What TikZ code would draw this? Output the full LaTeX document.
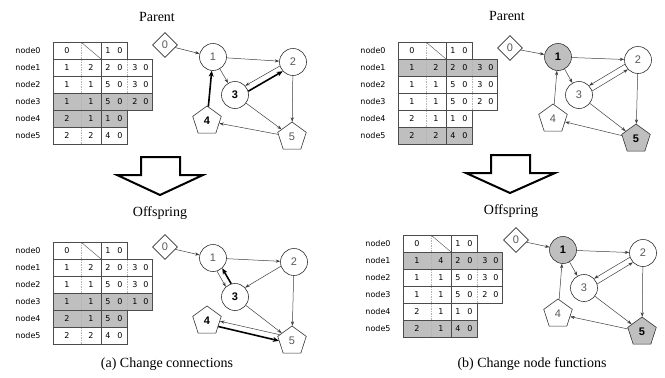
\documentclass[tikz,border=0pt]{standalone}
\usepackage{fontspec}
\setmainfont{Liberation Serif}
\newfontfamily\tabfont{DejaVu Sans}
\newfontfamily\gfont{Liberation Sans}
\usetikzlibrary{shapes.geometric,arrows.meta,calc}

\tikzset{
  cell/.style={font=\tabfont\fontsize{8}{9}\selectfont, inner sep=0pt},
  rowlab/.style={font=\tabfont\fontsize{8}{9}\selectfont, inner sep=0pt},
  gline/.style={draw=black!70, line width=0.6pt},
  dline/.style={draw=black!30, dash pattern=on 1.5pt off 1pt, line width=0.5pt},
  shaded/.style={fill=black!25},
  plain/.style={fill=white},
  gnode/.style={draw=black!80, line width=0.6pt, fill=white, inner sep=0pt,
    font=\gfont\fontsize{11}{12}\selectfont, text=black!65},
  circ/.style={gnode, circle, minimum size=27pt},
  pent/.style={gnode, regular polygon, regular polygon sides=5, minimum size=30pt},
  diam/.style={gnode, diamond, aspect=1, minimum size=25pt},
  hl/.style={font=\gfont\bfseries\fontsize{11}{12}\selectfont, text=black},
  gfill/.style={fill=black!25},
  e/.style={draw=black!75, line width=0.5pt, -{Stealth[length=4.5pt,width=3.2pt]}},
  te/.style={draw=black, line width=1.6pt, -{Stealth[length=6pt,width=5pt]}},
  bigarrow/.style={draw=black, line width=2pt, fill=white, line join=miter},
  title/.style={font=\fontsize{14}{16}\selectfont, inner sep=0pt},
}

% row 0 : function, slash, one connection
\newcommand\rowZ[4]{%
  \node[cell] (#1r0a) at (14,8.5) {#2};
  \node[cell] (#1r0c) at (55,8.5) {#3};
  \node[cell] (#1r0d) at (67,8.5) {#4};
  \draw[gline, line width=0.4pt] (28,0) -- (48,17);
  \draw[dline] (28,0) -- (28,17);
  \draw[gline] (48,0) -- (48,17);
  \draw[gline] (0,0) rectangle (74,17);
}
% three-column row: #1 prefix #2 row #3 fill #4 a #5 b #6 c1 #7 c2
\newcommand\rowC[7]{%
  \fill[#3] (0,#2*17) rectangle (74,#2*17+17);
  \node[cell] (#1r#2a) at (14,#2*17+8.5) {#4};
  \node[cell] (#1r#2b) at (38,#2*17+8.5) {#5};
  \node[cell] (#1r#2c) at (55,#2*17+8.5) {#6};
  \node[cell] (#1r#2d) at (67,#2*17+8.5) {#7};
  \draw[dline] (28,#2*17) -- (28,#2*17+17);
  \draw[gline] (48,#2*17) -- (48,#2*17+17);
  \draw[gline] (0,#2*17) rectangle (74,#2*17+17);
}
% four-column row: adds #8 d1 #9 d2
\newcommand\rowD[9]{%
  \fill[#3] (0,#2*17) rectangle (99,#2*17+17);
  \node[cell] (#1r#2a) at (14,#2*17+8.5) {#4};
  \node[cell] (#1r#2b) at (38,#2*17+8.5) {#5};
  \node[cell] (#1r#2c) at (55,#2*17+8.5) {#6};
  \node[cell] (#1r#2d) at (67,#2*17+8.5) {#7};
  \node[cell] (#1r#2e) at (82,#2*17+8.5) {#8};
  \node[cell] (#1r#2f) at (93,#2*17+8.5) {#9};
  \draw[dline] (28,#2*17) -- (28,#2*17+17);
  \draw[gline] (48,#2*17) -- (48,#2*17+17);
  \draw[dline] (74,#2*17) -- (74,#2*17+17);
  \draw[gline] (0,#2*17) rectangle (99,#2*17+17);
}
\newcommand\rlabs[1]{%
  \foreach \i in {0,...,5}{\node[rowlab] (#1l\i) at (-25,\i*17+8.5) {node\i};}
}
% parallel edge, offset to the right of travel
\newcommand\pedge[3]{%
  \draw[#1] let \p1=($(#3)-(#2)$), \n1={atan2(\y1,\x1)-13}, \n2={atan2(\y1,\x1)+193}
    in (#2.\n1) -- (#3.\n2);
}

\begin{document}
\begin{tikzpicture}[x=1pt,y=-1pt]
\useasboundingbox (0,0) rectangle (665,378);
\fill[white] (0,0) rectangle (665,378);

% ---------- titles ----------
\node[title] (tpl) at (157,17) {Parent};
\node[title] (tpr) at (507,16) {Parent};
\node[title] (tol) at (160,213) {Offspring};
\node[title] (tor) at (511,211) {Offspring};
\node[title] (capa) at (167,364) {(a) Change connections};
\node[title] (capb) at (532,364) {(b) Change node functions};

% ---------- big arrows ----------
\draw[bigarrow] (141,157) -- (180,157) -- (180,175) -- (203,175) -- (160,195)
  -- (117,175) -- (141,175) -- cycle;
\draw[bigarrow] (491,155) -- (530,155) -- (530,173) -- (555,173) -- (510,193)
  -- (466,173) -- (491,173) -- cycle;

% ---------- tables ----------
\begin{scope}[shift={(53,42)}]
  \rlabs{lp}
  \rowZ{lp}{0}{1}{0}
  \rowD{lp}{1}{plain}{1}{2}{2}{0}{3}{0}
  \rowD{lp}{2}{plain}{1}{1}{5}{0}{3}{0}
  \rowD{lp}{3}{shaded}{1}{1}{5}{0}{2}{0}
  \rowC{lp}{4}{shaded}{2}{1}{1}{0}
  \rowC{lp}{5}{plain}{2}{2}{4}{0}
\end{scope}
\begin{scope}[shift={(53,242)}]
  \rlabs{lo}
  \rowZ{lo}{0}{1}{0}
  \rowD{lo}{1}{plain}{1}{2}{2}{0}{3}{0}
  \rowD{lo}{2}{plain}{1}{1}{5}{0}{3}{0}
  \rowD{lo}{3}{shaded}{1}{1}{5}{0}{1}{0}
  \rowC{lo}{4}{shaded}{2}{1}{5}{0}
  \rowC{lo}{5}{plain}{2}{2}{4}{0}
\end{scope}
\begin{scope}[shift={(398,42)}]
  \rlabs{rp}
  \rowZ{rp}{0}{1}{0}
  \rowD{rp}{1}{shaded}{1}{2}{2}{0}{3}{0}
  \rowD{rp}{2}{plain}{1}{1}{5}{0}{3}{0}
  \rowD{rp}{3}{plain}{1}{1}{5}{0}{2}{0}
  \rowC{rp}{4}{plain}{2}{1}{1}{0}
  \rowC{rp}{5}{shaded}{2}{2}{4}{0}
\end{scope}
\begin{scope}[shift={(403,235)}]
  \rlabs{ro}
  \rowZ{ro}{0}{1}{0}
  \rowD{ro}{1}{shaded}{1}{4}{2}{0}{3}{0}
  \rowD{ro}{2}{plain}{1}{1}{5}{0}{3}{0}
  \rowD{ro}{3}{plain}{1}{1}{5}{0}{2}{0}
  \rowC{ro}{4}{plain}{2}{1}{1}{0}
  \rowC{ro}{5}{shaded}{2}{1}{4}{0}
\end{scope}

% ---------- graph (a) parent ----------
\node[diam] (lp0) at (165,45) {0};
\node[circ] (lp1) at (213,57) {1};
\node[circ] (lp2) at (293,62) {2};
\node[circ, hl] (lp3) at (235,95) {3};
\node[pent, hl] (lp4) at (207,121) {4};
\node[pent] (lp5) at (292,137) {5};
\draw[e] (lp0) -- (lp1);
\draw[e] (lp1) -- (lp2);
\draw[e] (lp1) -- (lp3);
\draw[e] (lp2) -- (lp5);
\draw[e] (lp3) -- (lp5);
\draw[e] (lp5) -- (lp4);
\draw[te] (lp4) -- (lp1);
\pedge{e}{lp2}{lp3}
\pedge{te}{lp3}{lp2}

% ---------- graph (a) offspring ----------
\node[diam] (lo0) at (165,247) {0};
\node[circ] (lo1) at (213,258) {1};
\node[circ] (lo2) at (294,262) {2};
\node[circ, hl] (lo3) at (235,297) {3};
\node[pent, hl] (lo4) at (207,321) {4};
\node[pent] (lo5) at (292,341) {5};
\draw[e] (lo0) -- (lo1);
\draw[e] (lo1) -- (lo2);
\draw[e] (lo2) -- (lo5);
\draw[e] (lo3) -- (lo5);
\pedge{e}{lo2}{lo3}
\pedge{e}{lo1}{lo3}
\pedge{te}{lo3}{lo1}
\pedge{e}{lo5}{lo4}
\pedge{te}{lo4}{lo5}

% ---------- graph (b) parent ----------
\node[diam] (rp0) at (510,48) {0};
\node[circ, gfill, hl] (rp1) at (558,57) {1};
\node[circ] (rp2) at (638,60) {2};
\node[circ] (rp3) at (579,95) {3};
\node[pent] (rp4) at (553,119) {4};
\node[pent, gfill, hl] (rp5) at (636,139) {5};
\draw[e] (rp0) -- (rp1);
\draw[e] (rp1) -- (rp2);
\draw[e] (rp1) -- (rp3);
\draw[e] (rp2) -- (rp5);
\draw[e] (rp3) -- (rp5);
\draw[e] (rp5) -- (rp4);
\draw[e] (rp4) -- (rp1);
\pedge{e}{rp2}{rp3}
\pedge{e}{rp3}{rp2}

% ---------- graph (b) offspring ----------
\node[diam] (ro0) at (516,240) {0};
\node[circ, gfill, hl] (ro1) at (563,250) {1};
\node[circ] (ro2) at (643,253) {2};
\node[circ] (ro3) at (584,288) {3};
\node[pent] (ro4) at (558,314) {4};
\node[pent, gfill, hl] (ro5) at (642,332) {5};
\draw[e] (ro0) -- (ro1);
\draw[e] (ro1) -- (ro2);
\draw[e] (ro1) -- (ro3);
\draw[e] (ro2) -- (ro5);
\draw[e] (ro3) -- (ro5);
\draw[e] (ro5) -- (ro4);
\draw[e] (ro4) -- (ro1);
\pedge{e}{ro2}{ro3}
\pedge{e}{ro3}{ro2}
\end{tikzpicture}
\end{document}
